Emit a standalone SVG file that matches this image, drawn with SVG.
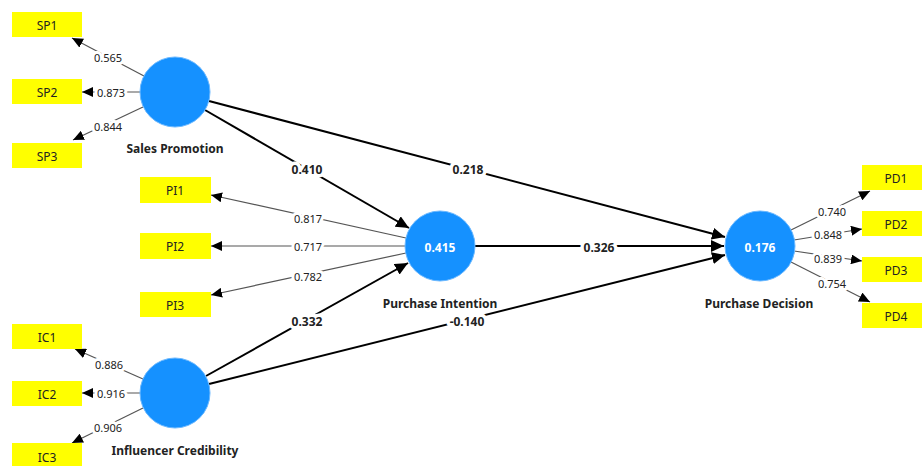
<svg xmlns="http://www.w3.org/2000/svg" width="922" height="466" viewBox="0 0 922 466">
<style>
text{font-family:"Noto Sans","Open Sans","Liberation Sans",sans-serif;text-anchor:middle;dominant-baseline:central}
.box{fill:#ffff00}
.bt{font-size:12px;fill:#222}
.lv{fill:#1591ff;stroke:#6ab8ff;stroke-width:1}
.inner{font-size:12px;font-weight:bold;fill:#fff}
.nl{font-size:12px;font-weight:bold;fill:#222}
.ld{stroke:#555;stroke-width:1.2;fill:none;marker-end:url(#sa)}
.st{stroke:#000;stroke-width:2;fill:none;marker-end:url(#la)}
.ll{font-size:11px;fill:#222;stroke:#fff;stroke-width:6;paint-order:stroke;stroke-linejoin:round}
.sl{font-size:12px;font-weight:bold;fill:#222;stroke:#fff;stroke-width:7;paint-order:stroke;stroke-linejoin:round}
</style>
<defs>
<marker id="sa" markerUnits="userSpaceOnUse" markerWidth="12" markerHeight="10" refX="11" refY="5" orient="auto"><path d="M0,0 L11,5 L0,10 Z" fill="#000"/></marker>
<marker id="la" markerUnits="userSpaceOnUse" markerWidth="14" markerHeight="12" refX="13" refY="6" orient="auto"><path d="M0,0 L13,6 L0,12 Z" fill="#000"/></marker>
</defs>
<rect width="922" height="466" fill="#fff"/>
<g id="connectors">
<line class="st" x1="205" y1="110" x2="409" y2="228"/>
<line class="st" x1="209" y1="101" x2="725" y2="237"/>
<line class="st" x1="475" y1="246" x2="724" y2="246"/>
<line class="st" x1="206" y1="376" x2="408" y2="263"/>
<line class="st" x1="209" y1="384" x2="725" y2="255"/>
<line class="ld" x1="144" y1="76" x2="72" y2="38"/>
<line class="ld" x1="140" y1="92" x2="82" y2="92"/>
<line class="ld" x1="143" y1="107" x2="73" y2="140"/>
<line class="ld" x1="143" y1="379" x2="75" y2="349"/>
<line class="ld" x1="140" y1="393" x2="82" y2="393"/>
<line class="ld" x1="143" y1="408" x2="72" y2="443"/>
<line class="ld" x1="406" y1="238" x2="211" y2="195"/>
<line class="ld" x1="405" y1="246" x2="211" y2="246"/>
<line class="ld" x1="406" y1="253" x2="211" y2="295"/>
<line class="ld" x1="791" y1="230" x2="870" y2="191"/>
<line class="ld" x1="794" y1="240" x2="862" y2="229"/>
<line class="ld" x1="794" y1="251" x2="862" y2="261"/>
<line class="ld" x1="791" y1="262" x2="870" y2="302"/>
<text class="ll" x="108" y="57">0.565</text>
<text class="ll" x="111" y="92">0.873</text>
<text class="ll" x="108" y="126">0.844</text>
<text class="ll" x="109" y="364">0.886</text>
<text class="ll" x="111" y="393">0.916</text>
<text class="ll" x="108" y="427">0.906</text>
<text class="ll" x="308" y="218">0.817</text>
<text class="ll" x="308" y="246">0.717</text>
<text class="ll" x="308" y="276">0.782</text>
<text class="ll" x="832" y="211">0.740</text>
<text class="ll" x="828" y="234">0.848</text>
<text class="ll" x="828" y="258">0.839</text>
<text class="ll" x="832" y="283">0.754</text>
<text class="sl" x="307" y="169">0.410</text>
<text class="sl" x="468" y="169">0.218</text>
<text class="sl" x="599" y="247">0.326</text>
<text class="sl" x="307" y="321">0.332</text>
<text class="sl" x="467" y="321">-0.140</text>
</g>
<g id="SP1"><rect class="box" x="12" y="12" width="70" height="25"/><text class="bt" x="47" y="25">SP1</text></g>
<g id="SP2"><rect class="box" x="12" y="79" width="70" height="25"/><text class="bt" x="47" y="92">SP2</text></g>
<g id="SP3"><rect class="box" x="12" y="143" width="70" height="25"/><text class="bt" x="47" y="156">SP3</text></g>
<g id="IC1"><rect class="box" x="12" y="324" width="70" height="25"/><text class="bt" x="47" y="337">IC1</text></g>
<g id="IC2"><rect class="box" x="12" y="381" width="70" height="25"/><text class="bt" x="47" y="394">IC2</text></g>
<g id="IC3"><rect class="box" x="12" y="443" width="70" height="25"/><text class="bt" x="47" y="457">IC3</text></g>
<g id="PI1"><rect class="box" x="140" y="177" width="71" height="26"/><text class="bt" x="175" y="190">PI1</text></g>
<g id="PI2"><rect class="box" x="140" y="233" width="71" height="26"/><text class="bt" x="175" y="246">PI2</text></g>
<g id="PI3"><rect class="box" x="140" y="292" width="71" height="25"/><text class="bt" x="175" y="305">PI3</text></g>
<g id="PD1"><rect class="box" x="862" y="165" width="60" height="25"/><text class="bt" x="896" y="178">PD1</text></g>
<g id="PD2"><rect class="box" x="862" y="211" width="60" height="25"/><text class="bt" x="896" y="224">PD2</text></g>
<g id="PD3"><rect class="box" x="862" y="257" width="60" height="25"/><text class="bt" x="896" y="270">PD3</text></g>
<g id="PD4"><rect class="box" x="862" y="303" width="60" height="25"/><text class="bt" x="896" y="316">PD4</text></g>
<g id="SalesPromotion"><circle class="lv" cx="175" cy="92" r="35"/><text class="nl" x="175" y="148">Sales Promotion</text></g>
<g id="InfluencerCredibility"><circle class="lv" cx="175" cy="393" r="35"/><text class="nl" x="175" y="450">Influencer Credibility</text></g>
<g id="PurchaseIntention"><circle class="lv" cx="440" cy="246" r="35"/><text class="inner" x="440" y="247">0.415</text><text class="nl" x="440" y="303">Purchase Intention</text></g>
<g id="PurchaseDecision"><circle class="lv" cx="760" cy="246" r="35"/><text class="inner" x="760" y="247">0.176</text><text class="nl" x="759" y="303">Purchase Decision</text></g>
</svg>
